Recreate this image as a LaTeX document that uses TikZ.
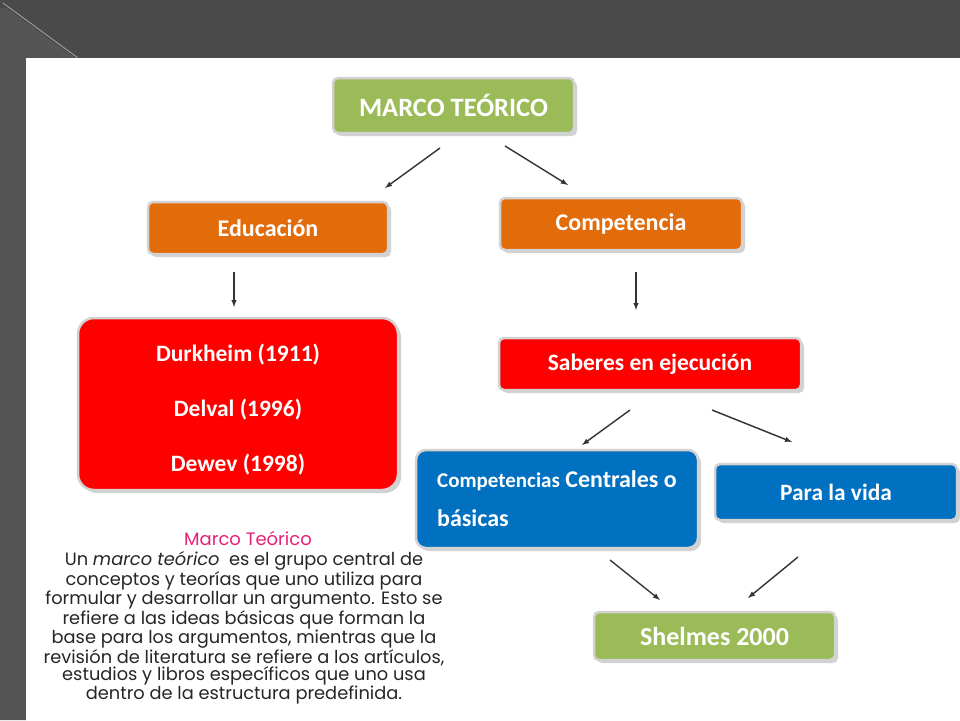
\documentclass[tikz,border=0pt]{standalone}
\usepackage{fontspec}
\setmainfont{Carlito}
\newfontfamily\bodyfont{Poppins}
\usetikzlibrary{shadows}
\definecolor{bgdark}{HTML}{4A4A4A}
\definecolor{bgside}{HTML}{555555}
\definecolor{grn}{HTML}{9BBB59}
\definecolor{org}{HTML}{E36C0A}
\definecolor{rd}{HTML}{FF0000}
\definecolor{blu}{HTML}{0070C0}
\definecolor{pink}{HTML}{E8207A}
\tikzset{
  box/.style={draw=gray!35,line width=2.5pt,rounded corners=5pt,inner sep=0pt,
    font=\bfseries\fontsize{24}{28}\selectfont,text=white,align=center,
    drop shadow={shadow xshift=3pt,shadow yshift=-3pt,opacity=0.35}},
  arr/.style={-latex,line width=1.4pt,black!80}
}
\begin{document}
\begin{tikzpicture}[x=1pt,y=-1pt]
\useasboundingbox (0,0) rectangle (960,720);
\fill[bgdark] (0,0) rectangle (960,720);
\fill[bgside] (0,8) -- (0,720) -- (26,720) -- (26,58) -- (75,58) -- (6,8) -- cycle;
\draw[gray!70,line width=0.8pt] (3,3) -- (78,58);
\fill[white] (26,58) rectangle (960,720);
\node[box,fill=grn,minimum width=241pt,minimum height=55pt,font=\bfseries\fontsize{26.5}{30}\selectfont] (mt) at (453.5,105.5) {MARCO TEÓRICO};
\node[box,fill=org,minimum width=240pt,minimum height=52pt] (ed) at (268,228) {Educación};
\node[box,fill=org,minimum width=242pt,minimum height=52pt] (co) at (621,224) {Competencia};
\node[box,fill=rd,minimum width=320pt,minimum height=172pt,rounded corners=16pt,
  font=\bfseries\fontsize{23.5}{55}\selectfont] (au) at (238,404) {\raisebox{0pt}[28pt][0pt]{}Durkheim (1911)\\Delval (1996)\\Dewev (1998)};
\node[box,fill=rd,minimum width=302pt,minimum height=52pt,font=\bfseries\fontsize{23.5}{28}\selectfont] (sa) at (650,364) {Saberes en ejecución};
\node[box,fill=blu,minimum width=282pt,minimum height=98pt,rounded corners=10pt,align=left,
  font=\bfseries\fontsize{24}{39}\selectfont] (cc) at (557,499) {{\fontsize{21}{24}\selectfont Competencias} Centrales o\\básicas};
\node[box,fill=blu,minimum width=242pt,minimum height=56pt,font=\bfseries\fontsize{23.4}{28}\selectfont] (pv) at (836,492) {Para la vida};
\node[box,fill=grn,minimum width=241pt,minimum height=48pt,font=\bfseries\fontsize{26}{30}\selectfont] (sh) at (714.5,636) {Shelmes 2000};
\coordinate (a1) at (440,148); \coordinate (b1) at (385,188);
\coordinate (a2) at (505,146); \coordinate (b2) at (568,185);
\coordinate (a3) at (234,272); \coordinate (b3) at (234,307);
\coordinate (a4) at (636,272); \coordinate (b4) at (636,310);
\coordinate (a5) at (630,410); \coordinate (b5) at (582,445);
\coordinate (a6) at (712,410); \coordinate (b6) at (792,442);
\coordinate (a7) at (610,560); \coordinate (b7) at (660,600);
\coordinate (a8) at (798,557); \coordinate (b8) at (748,598);
\foreach \i in {1,...,8} \draw[arr] (a\i) -- (b\i);
\node[text=pink,font=\bodyfont\fontsize{18}{20}\selectfont] (tt) at (248,538) {Marco Teórico};
\node[anchor=north,align=center,text=black!85,font=\bodyfont\fontsize{17.8}{17}\selectfont] (body) at (244,548)
 {Un \textit{marco teórico}\ \ es el grupo central de\\conceptos y teorías que uno utiliza para\\formular y desarrollar un argumento. Esto se\\refiere a las ideas básicas que forman la\\base para los argumentos, mientras que la\\revisión de literatura se refiere a los artículos,\\estudios y libros específicos que uno usa\\dentro de la estructura predefinida.};
\end{tikzpicture}
\end{document}
